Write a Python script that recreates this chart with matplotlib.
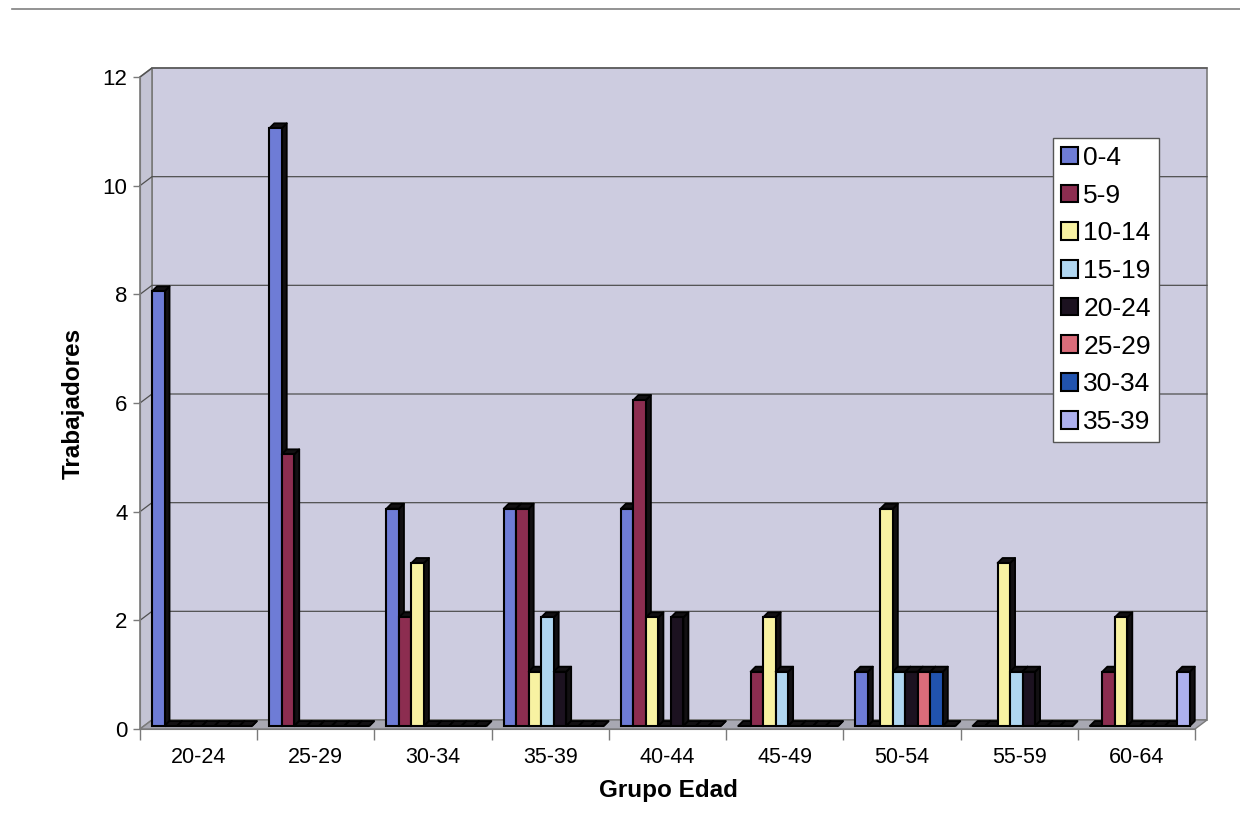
import numpy as np
import matplotlib
matplotlib.use('Agg')
import matplotlib.pyplot as plt
from matplotlib.transforms import ScaledTranslation, IdentityTransform
from matplotlib.patches import Rectangle, Polygon, Patch
from matplotlib.collections import PolyCollection
from matplotlib.lines import Line2D

plt.rcParams['font.family'] = ['Liberation Sans', 'DejaVu Sans']

grupos = ['20-24', '25-29', '30-34', '35-39', '40-44', '45-49', '50-54', '55-59', '60-64']
series = ['0-4', '5-9', '10-14', '15-19', '20-24', '25-29', '30-34', '35-39']
s0_4 = [8, 11, 4, 4, 4, 0, 1, 0, 0]
s5_9 = [0, 5, 2, 4, 6, 1, 0, 0, 1]
s10_14 = [0, 0, 3, 1, 2, 2, 4, 3, 2]
s15_19 = [0, 0, 0, 2, 0, 1, 1, 1, 0]
s20_24 = [0, 0, 0, 1, 2, 0, 1, 1, 0]
s25_29 = [0, 0, 0, 0, 0, 0, 1, 0, 0]
s30_34 = [0, 0, 0, 0, 0, 0, 1, 0, 0]
s35_39 = [0, 0, 0, 0, 0, 0, 0, 0, 1]
valores = [s0_4, s5_9, s10_14, s15_19, s20_24, s25_29, s30_34, s35_39]
colores = ['#6e7cd6', '#8c2d50', '#f8f2a2', '#b0d6f0', '#1c1220', '#da6c7a', '#2153ae', '#adb0ee']

W, H = 1240, 815
fig = plt.figure(figsize=(W / 100, H / 100), dpi=100)
fig.patch.set_facecolor('white')

# front plane of the 3d box
x0, x1, ytop, ybot = 140, 1195, 77, 729
ax = fig.add_axes([x0 / W, (H - ybot) / H, (x1 - x0) / W, (ybot - ytop) / H])
ax.set_xlim(-0.5, 8.5)
ax.set_ylim(0, 12)
ax.patch.set_visible(False)

DX, DY = 12, 9  # depth of the box in pixels
idt = IdentityTransform()

def disp(x, y):
    return ax.transData.transform((x, y))

def dpoly(pts, **kw):
    ax.add_patch(Polygon(pts, closed=True, transform=idt, clip_on=False, **kw))

bl = disp(-0.5, 0); br = disp(8.5, 0); tl = disp(-0.5, 12); tr = disp(8.5, 12)
sh = np.array([DX, DY])
# back wall, left wall, floor
dpoly([bl + sh, br + sh, tr + sh, tl + sh], fc='#cdcce0', ec='#7a7a7a', lw=1.2, zorder=0)
dpoly([bl, tl, tl + sh, bl + sh], fc='#c4c4d4', ec='#7a7a7a', lw=1.2, zorder=0.2)
dpoly([bl, br, br + sh, bl + sh], fc='#a8a8b2', ec='#7a7a7a', lw=1.0, zorder=0.2)

# gridlines on the back wall and left wall
for y in range(2, 13, 2):
    a = disp(-0.5, y); b = disp(8.5, y)
    ax.add_line(Line2D([a[0], a[0] + DX, b[0] + DX], [a[1], a[1] + DY, b[1] + DY],
                       transform=idt, color='#505050', lw=0.9, zorder=0.5, clip_on=False))

# bars, placed halfway into the depth; each bar gets a dark top and right side
MX, MY = 5, 3   # shift of the bar fronts into the box
D = 5           # bar depth in pixels
mid = ax.transData + ScaledTranslation(MX / 100, MY / 100, fig.dpi_scale_trans)
w = 0.1066
xs = np.arange(len(grupos))
for i, (v, c) in enumerate(zip(valores, colores)):
    pos = xs - 0.44 + (i + 0.5) * w
    caras = []
    for xp, val in zip(pos, v):
        L = disp(xp - w / 2, 0)[0] + MX
        R = disp(xp + w / 2, 0)[0] + MX
        B = disp(xp, 0)[1] + MY
        T = disp(xp, val)[1] + MY
        caras.append([(R, B), (R, T), (R + D, T + D), (R + D, B + D)])
        caras.append([(L, T), (R, T), (R + D, T + D), (L + D, T + D)])
    pc = PolyCollection(caras, transform=idt, facecolors='#121012',
                        edgecolors='black', linewidths=1.3, zorder=2 + i * 0.1)
    pc.set_clip_on(False)
    ax.add_collection(pc, autolim=False)
    ax.bar(pos, v, w, transform=mid, color=c, edgecolor='black', lw=1.5,
           zorder=2.05 + i * 0.1, clip_on=False)
ax.set_xlim(-0.5, 8.5)
ax.set_ylim(0, 12)

# axes
for s in ['top', 'right']:
    ax.spines[s].set_visible(False)
ax.spines['left'].set_color('#7a7a7a')
ax.spines['bottom'].set_color('#7a7a7a')
ax.spines['left'].set_zorder(4)
ax.spines['bottom'].set_zorder(4)
ax.set_yticks(range(0, 13, 2))
ax.tick_params(axis='y', length=5, width=1, color='#7a7a7a', pad=4, labelsize=16)
ax.set_xticks(xs)
ax.set_xticklabels(grupos)
ax.set_xticks(np.arange(-0.5, 9, 1), minor=True)
ax.tick_params(axis='x', which='major', length=0, pad=13, labelsize=15.5)
ax.tick_params(axis='x', which='minor', length=8, width=1, color='#7a7a7a')

fig.text(668 / W, 1 - 791 / H, 'Grupo Edad', ha='center', va='center',
         fontsize=17.5, fontweight='bold')
fig.text(73 / W, 1 - 403 / H, 'Trabajadores', ha='center', va='center',
         fontsize=17.5, fontweight='bold', rotation=90)

handles = [Patch(facecolor=c, edgecolor='black', lw=1.5) for c in colores]
leg = fig.legend(handles, series, loc='upper left', bbox_to_anchor=(1053 / W, 1 - 138 / H),
                 fontsize=19, frameon=True, fancybox=False, edgecolor='#555555',
                 framealpha=1, handlelength=0.65, handleheight=0.65, handletextpad=0.2,
                 labelspacing=0.52, borderpad=0.3, borderaxespad=0)
leg.get_frame().set_linewidth(1.0)

# rule across the top of the page
fig.add_artist(Line2D([12, W], [H - 9, H - 9], transform=idt, color='#808080', lw=1.2))

fig.savefig('out.png', dpi=100)
